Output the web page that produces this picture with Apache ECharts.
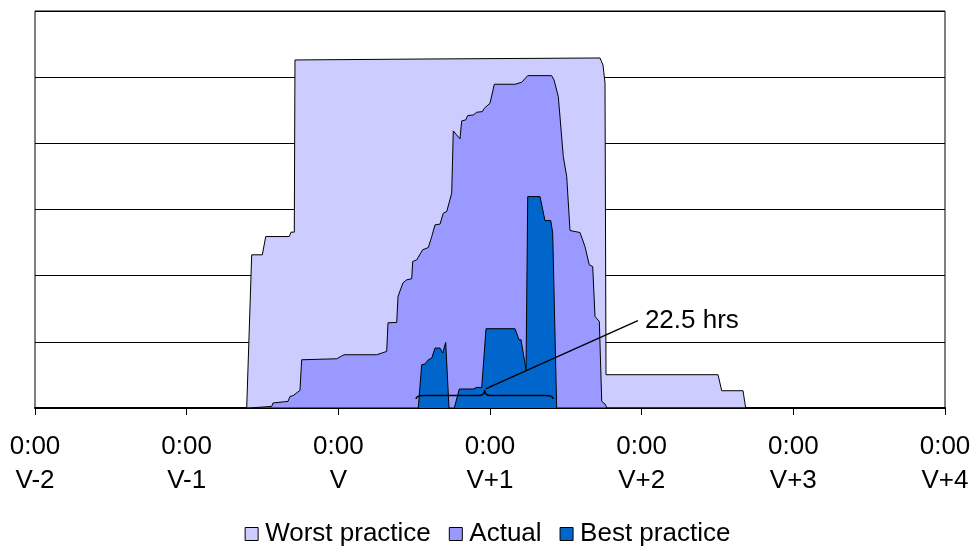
<!DOCTYPE html>
<html>
<head>
<meta charset="utf-8">
<script src="https://cdn.jsdelivr.net/npm/echarts@6/dist/echarts.min.js"></script>
<style>
  html, body { margin: 0; padding: 0; background: #fff; }
  #chart { width: 975px; height: 549px; }
</style>
</head>
<body>
<div id="chart"></div>
<script>
// x = hours since 0:00 on V-2, y = load (no units shown)
var dayLabels = ['V-2', 'V-1', 'V', 'V+1', 'V+2', 'V+3', 'V+4'];

var worstPractice = [
  [0, 0], [33.5, 0], [34.29, 2.315], [35.97, 2.315], [36.51, 2.591], [40.24, 2.591],
  [40.51, 2.658], [41.03, 2.658], [41.14, 5.26], [62.51, 5.275], [89.41, 5.29],
  [89.88, 5.184], [90.2, 4.912], [90.36, 0.503], [108.08, 0.503], [108.67, 0.261],
  [112.04, 0.261], [112.46, 0], [144, 0]
];

var actual = [
  [0, 0], [33.86, 0], [34.02, 0.024], [37.46, 0.024], [37.66, 0.076], [40.04, 0.1],
  [40.35, 0.175], [40.83, 0.186], [41.93, 0.266], [42.2, 0.729], [47.74, 0.744],
  [48.9, 0.805], [54.07, 0.805], [55.65, 0.855], [55.86, 1.288], [57.24, 1.293],
  [57.44, 1.685], [58.23, 1.892], [58.82, 1.937], [59.61, 1.953], [59.77, 2.214],
  [60.4, 2.239], [61.35, 2.391], [62.24, 2.425], [62.78, 2.591], [63.3, 2.768],
  [64.09, 2.779], [64.61, 2.945], [65.15, 2.969], [65.94, 3.247], [66.19, 4.188],
  [67.25, 4.067], [67.52, 4.339], [68.15, 4.354], [68.47, 4.419], [69.36, 4.429],
  [69.9, 4.47], [70.78, 4.479], [71.1, 4.53], [72.0, 4.606], [72.68, 4.893],
  [75.96, 4.893], [77.02, 4.923], [77.97, 5.023], [81.76, 5.023], [82.13, 4.958],
  [82.81, 4.706], [83.6, 3.799], [84.14, 3.497], [84.66, 2.682], [86.24, 2.652],
  [87.03, 2.44], [87.71, 2.164], [88.25, 2.138], [88.62, 1.383], [89.3, 1.308],
  [89.68, 0.1], [90.2, 0.06], [90.51, 0], [144, 0]
];

var bestPractice = [
  [0, 0], [60.65, 0], [61.19, 0.654], [61.71, 0.664], [62.24, 0.729], [62.78, 0.755],
  [63.3, 0.906], [64.09, 0.906], [64.52, 0.831], [64.99, 0.991], [65.51, 0],
  [66.35, 0], [67.14, 0.287], [69.47, 0.287], [69.79, 0.311], [70.69, 0.311],
  [71.37, 1.198], [75.96, 1.198], [76.59, 1.031], [76.91, 1.031], [77.7, 0.578],
  [77.97, 3.195], [79.91, 3.195], [80.7, 2.833], [81.61, 2.833], [81.92, 2.647],
  [82.55, 0], [144, 0]
];

// brace under the best practice run and its callout
var braceSpan = [60.3, 82.0];
var braceLevels = [0.136, 0.19, 0.27];
var calloutFrom = [71.3, 0.29];
var calloutTo = [95.4, 1.32];
var calloutText = '22.5 hrs';

var font = '"Liberation Sans", Arial, sans-serif';

var chart = echarts.init(document.getElementById('chart'));

function areaSeries(name, data, color) {
  return {
    name: name,
    type: 'line',
    data: data,
    symbol: 'none',
    silent: true,
    lineStyle: { color: '#000', width: 1 },
    itemStyle: { color: color },
    areaStyle: { color: color, opacity: 1 }
  };
}

chart.setOption({
  animation: false,
  textStyle: { fontFamily: font },
  grid: {
    left: 35,
    right: 30,
    top: 11,
    bottom: 141,
    show: true,
    borderColor: '#000',
    borderWidth: 1
  },
  legend: {
    top: 516,
    left: 'center',
    icon: 'rect',
    itemWidth: 13,
    itemHeight: 13,
    itemGap: 18,
    textStyle: { fontSize: 26, color: '#000', fontFamily: font, padding: [0, 0, 0, 2] },
    data: [
      { name: 'Worst practice', itemStyle: { color: '#CCCCFF', borderColor: '#000', borderWidth: 1 } },
      { name: 'Actual', itemStyle: { color: '#9999FF', borderColor: '#000', borderWidth: 1 } },
      { name: 'Best practice', itemStyle: { color: '#0066CC', borderColor: '#000', borderWidth: 1 } }
    ]
  },
  xAxis: {
    type: 'value',
    min: 0,
    max: 144,
    interval: 24,
    axisLine: { lineStyle: { color: '#000', width: 2 } },
    axisTick: { show: true, length: 7, lineStyle: { color: '#000', width: 1 } },
    splitLine: { show: false },
    axisLabel: {
      color: '#000',
      fontSize: 26,
      fontFamily: font,
      lineHeight: 34,
      margin: 22,
      formatter: function (v) { return '0:00\n' + dayLabels[Math.round(v / 24)]; }
    }
  },
  yAxis: {
    type: 'value',
    min: 0,
    max: 6,
    interval: 1,
    axisLine: { show: false },
    axisTick: { show: false },
    axisLabel: { show: false },
    splitLine: { lineStyle: { color: '#000', width: 1 } }
  },
  series: [
    areaSeries('Worst practice', worstPractice, '#CCCCFF'),
    areaSeries('Actual', actual, '#9999FF'),
    areaSeries('Best practice', bestPractice, '#0066CC'),
    {
      type: 'custom',
      silent: true,
      data: [0],
      z: 5,
      renderItem: function (params, api) {
        var l = api.coord([braceSpan[0], braceLevels[0]]);
        var r = api.coord([braceSpan[1], braceLevels[0]]);
        var mid = (braceSpan[0] + braceSpan[1]) / 2;
        var ly = api.coord([braceSpan[0], braceLevels[1]])[1];
        var tip = api.coord([mid, braceLevels[2]]);
        var path = 'M' + l[0] + ',' + l[1] +
          ' Q' + l[0] + ',' + ly + ' ' + (l[0] + 8) + ',' + ly +
          ' L' + (tip[0] - 6) + ',' + ly +
          ' Q' + tip[0] + ',' + ly + ' ' + tip[0] + ',' + tip[1] +
          ' Q' + tip[0] + ',' + ly + ' ' + (tip[0] + 6) + ',' + ly +
          ' L' + (r[0] - 8) + ',' + ly +
          ' Q' + r[0] + ',' + ly + ' ' + r[0] + ',' + r[1];
        var a = api.coord(calloutFrom);
        var b = api.coord(calloutTo);
        return {
          type: 'group',
          children: [
            { type: 'path', shape: { pathData: path }, style: { fill: null, stroke: '#000', lineWidth: 1.5 } },
            { type: 'line', shape: { x1: a[0], y1: a[1], x2: b[0], y2: b[1] }, style: { stroke: '#000', lineWidth: 1.5 } },
            {
              type: 'text',
              x: b[0] + 7,
              y: b[1],
              style: {
                text: calloutText,
                fill: '#000',
                font: '26px ' + font,
                textAlign: 'left',
                textVerticalAlign: 'middle'
              }
            }
          ]
        };
      }
    }
  ]
});
</script>
</body>
</html>
